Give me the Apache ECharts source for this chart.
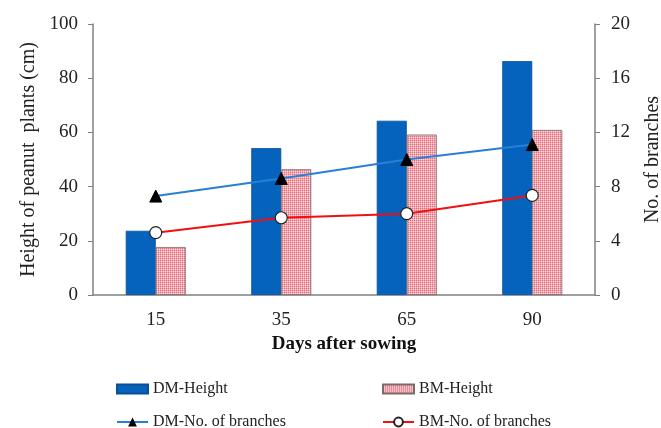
<!DOCTYPE html>
<html>
<head>
<meta charset="utf-8">
<script src="https://cdn.jsdelivr.net/npm/echarts@6/dist/echarts.min.js"></script>
<style>html,body{margin:0;padding:0;background:#fff}#c{width:661px;height:428px}</style>
</head>
<body>
<div id="c"></div>
<script>
const categories = ['15', '35', '65', '90'];
const dmHeight = [23.7, 54.2, 64.3, 86.3];
const bmHeight = [17.7, 46.4, 59.2, 60.9];
const dmBranches = [7.3, 8.6, 10.0, 11.1];
const bmBranches = [4.6, 5.7, 6.0, 7.35];
const leftTicks = [0, 20, 40, 60, 80, 100];
const rightTicks = [0, 4, 8, 12, 16, 20];

const font = 'Liberation Serif, Times New Roman, serif';

const pat = document.createElement('canvas');
pat.width = 2; pat.height = 2;
const pc = pat.getContext('2d');
pc.fillStyle = '#f9dadd'; pc.fillRect(0, 0, 2, 2);
pc.fillStyle = '#e46a7c'; pc.fillRect(0, 0, 1, 1);
pc.fillStyle = '#f2a9b2'; pc.fillRect(1, 0, 1, 1);
pc.fillStyle = '#f2a9b2'; pc.fillRect(0, 1, 1, 1);
const pinkFill = { image: pat, repeat: 'repeat' };

const chart = echarts.init(document.getElementById('c'), null, { renderer: 'canvas' });
const axisColor = '#808080';
const legText = { fontFamily: font, fontSize: 16, color: '#222' };
chart.setOption({
  animation: false,
  backgroundColor: '#fff',
  textStyle: { fontFamily: font, color: '#222' },
  grid: { left: 93, right: 66, top: 24, bottom: 133, containLabel: false, outerBoundsMode: 'none' },
  legend: [
    { data: [{ name: 'DM-Height', icon: 'rect' }], left: 116, top: 381, padding: 0, itemWidth: 31, itemHeight: 9, textStyle: legText },
    { data: [{ name: 'BM-Height', icon: 'rect' }], left: 382, top: 381, padding: 0, itemWidth: 31, itemHeight: 9, textStyle: legText },
    { data: ['DM-No. of branches'], left: 116, top: 414, padding: 0, itemWidth: 31, itemHeight: 11, textStyle: legText },
    { data: ['BM-No. of branches'], left: 382, top: 414, padding: 0, itemWidth: 31, itemHeight: 11, textStyle: legText }
  ],
  xAxis: {
    type: 'category', data: categories, boundaryGap: true,
    name: 'Days after sowing', nameLocation: 'middle', nameGap: 39,
    nameTextStyle: { fontFamily: font, fontSize: 19, fontWeight: 'bold', color: '#111' },
    axisLine: { lineStyle: { color: axisColor, width: 1.5 } },
    axisTick: { show: false },
    axisLabel: { fontFamily: font, fontSize: 19, color: '#222', margin: 16 }
  },
  yAxis: [
    { type: 'value', min: 0, max: 100, interval: 20, position: 'left',
      name: 'Height of peanut  plants (cm)', nameLocation: 'middle', nameGap: 49, nameRotate: 90,
      nameTextStyle: { fontFamily: font, fontSize: 20, color: '#222' },
      axisLine: { show: true, lineStyle: { color: axisColor, width: 1.5 } },
      axisTick: { show: true, length: 5, lineStyle: { color: axisColor } },
      axisLabel: { fontFamily: font, fontSize: 19, color: '#222', margin: 15,
        formatter: v => leftTicks.includes(v) ? String(v) : '' },
      splitLine: { show: false } },
    { type: 'value', min: 0, max: 20, interval: 4, position: 'right',
      name: 'No. of branches', nameLocation: 'middle', nameGap: 48, nameRotate: 90,
      nameTextStyle: { fontFamily: font, fontSize: 20, color: '#222' },
      axisLine: { show: true, lineStyle: { color: axisColor, width: 1.5 } },
      axisTick: { show: true, length: 5, lineStyle: { color: axisColor } },
      axisLabel: { fontFamily: font, fontSize: 19, color: '#222', margin: 16,
        formatter: v => rightTicks.includes(v) ? String(v) : '' },
      splitLine: { show: false } }
  ],
  series: [
    { name: 'DM-Height', type: 'bar', data: dmHeight, barWidth: 30, barGap: '0%',
      itemStyle: { color: '#0563bd', borderColor: '#0a4f94', borderWidth: 0.8 }, z: 2 },
    { name: 'BM-Height', type: 'bar', data: bmHeight, barWidth: 30,
      itemStyle: { color: pinkFill, borderColor: '#7a6a6a', borderWidth: 0.8 }, z: 2 },
    { name: 'DM-No. of branches', type: 'line', yAxisIndex: 1, data: dmBranches,
      lineStyle: { color: '#2a7fd4', width: 2 }, symbol: 'triangle', symbolSize: 12,
      itemStyle: { color: '#000', borderColor: '#000' }, z: 3 },
    { name: 'BM-No. of branches', type: 'line', yAxisIndex: 1, data: bmBranches,
      lineStyle: { color: '#f01010', width: 2 }, symbol: 'circle', symbolSize: 12,
      itemStyle: { color: '#fff', borderColor: '#222', borderWidth: 1.2 }, z: 4 }
  ]
});
</script>
</body>
</html>
